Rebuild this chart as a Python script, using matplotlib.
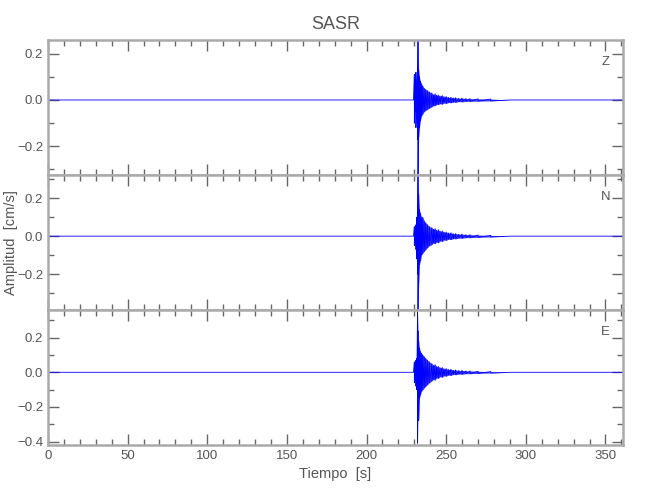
import numpy as np
import matplotlib
matplotlib.use('Agg')
import matplotlib.pyplot as plt
from matplotlib.ticker import MultipleLocator, FuncFormatter

plt.rcParams['font.family'] = ['Liberation Sans', 'DejaVu Sans']

station = 'SASR'
comps = ['Z', 'N', 'E']
rec_start = 0.0
rec_end = 361.0

# peak envelope of each trace (s, cm/s)
t_env = [229.5, 230.0, 230.5, 231.0, 231.5, 232.0, 232.3, 232.7, 233.2, 233.8,
         234.5, 235.3, 236.2, 237.2, 238.3, 239.5, 241.0, 242.0, 243.0, 244.0,
         245.0, 246.2, 247.5, 248.7, 250.0, 251.5, 253.0, 254.5, 256.0, 258.0,
         260.0, 262.5, 265.0, 270.0, 278.0, 290.0]
z_up = [0.0, 0.11, 0.06, 0.12, 0.08, 0.14, 0.26, 0.13, 0.10, 0.08,
        0.07, 0.06, 0.05, 0.045, 0.04, 0.035, 0.03, 0.022, 0.027, 0.02,
        0.022, 0.017, 0.019, 0.014, 0.015, 0.011, 0.012, 0.009, 0.010, 0.007,
        0.008, 0.006, 0.006, 0.005, 0.004, 0.0]
z_lo = [0.0, -0.10, -0.05, -0.12, -0.08, -0.17, -0.33, -0.16, -0.12, -0.09,
        -0.07, -0.06, -0.05, -0.045, -0.04, -0.035, -0.03, -0.024, -0.025, -0.019,
        -0.02, -0.016, -0.018, -0.013, -0.015, -0.011, -0.012, -0.009, -0.01, -0.007,
        -0.008, -0.006, -0.006, -0.005, -0.004, 0.0]
n_up = [0.0, 0.05, 0.04, 0.06, 0.10, 0.16, 0.32, 0.22, 0.14, 0.12,
        0.10, 0.10, 0.08, 0.07, 0.06, 0.05, 0.045, 0.036, 0.04, 0.03,
        0.035, 0.026, 0.028, 0.021, 0.022, 0.017, 0.018, 0.013, 0.014, 0.010,
        0.011, 0.008, 0.008, 0.006, 0.004, 0.0]
n_lo = [0.0, -0.05, -0.04, -0.07, -0.12, -0.20, -0.39, -0.25, -0.15, -0.13,
        -0.10, -0.09, -0.08, -0.07, -0.06, -0.05, -0.045, -0.035, -0.04, -0.03,
        -0.035, -0.025, -0.028, -0.02, -0.022, -0.016, -0.018, -0.013, -0.014, -0.01,
        -0.011, -0.008, -0.008, -0.006, -0.004, 0.0]
e_up = [0.0, 0.06, 0.05, 0.07, 0.08, 0.35, 0.24, 0.18, 0.14, 0.12,
        0.11, 0.10, 0.09, 0.08, 0.07, 0.06, 0.05, 0.04, 0.045, 0.032,
        0.035, 0.026, 0.028, 0.02, 0.022, 0.016, 0.018, 0.012, 0.014, 0.01,
        0.011, 0.008, 0.008, 0.006, 0.004, 0.0]
e_lo = [0.0, -0.06, -0.05, -0.08, -0.10, -0.41, -0.22, -0.28, -0.15, -0.13,
        -0.11, -0.10, -0.09, -0.08, -0.07, -0.06, -0.05, -0.04, -0.045, -0.032,
        -0.035, -0.025, -0.028, -0.02, -0.022, -0.016, -0.018, -0.012, -0.014, -0.01,
        -0.011, -0.008, -0.008, -0.006, -0.004, 0.0]

ups = [z_up, n_up, e_up]
los = [z_lo, n_lo, e_lo]
ylims = [(-0.324, 0.259), (-0.39, 0.323), (-0.42, 0.36)]

fcol = '#aaaaaa'
tcol = '#555555'

fig = plt.figure(figsize=(6.5, 5), dpi=100)
left, width = 48/650, 575/650
bottoms = [1-175/500, 1-310/500, 1-445/500]
h = 135/500

yfmt = FuncFormatter(lambda v, p: ('%.1f' % v).replace('-', '\u2212'))

for i in range(3):
    ax = fig.add_axes([left, bottoms[i], width, h])
    t = np.array(t_env)
    up = np.array(ups[i])
    lo = np.array(los[i])
    tt = np.concatenate([[rec_start], np.repeat(t, 2), [rec_end]])
    yy = np.concatenate([[0.0], np.column_stack([up, lo]).ravel(), [0.0]])
    ax.fill_between(t, lo, up, color='#1010ff', alpha=0.8, lw=0)
    ax.plot(tt, yy, color='#0000ff', lw=0.6)
    ax.set_xlim(rec_start, rec_end)
    ax.set_ylim(*ylims[i])
    ax.xaxis.set_major_locator(MultipleLocator(50))
    ax.xaxis.set_minor_locator(MultipleLocator(10))
    ax.yaxis.set_major_locator(MultipleLocator(0.2))
    ax.yaxis.set_minor_locator(MultipleLocator(0.1))
    ax.tick_params(which='both', direction='in', top=True, right=True,
                   color='#666666', labelcolor=tcol, labelsize=9.5, width=1)
    ax.tick_params(which='major', length=8)
    ax.tick_params(which='minor', length=4)
    ax.yaxis.set_major_formatter(yfmt)
    for s in ax.spines.values():
        s.set_color(fcol)
        s.set_linewidth(1.8)
    ax.text(0.97, 0.84, comps[i], transform=ax.transAxes, ha='center',
            va='center', color=tcol, fontsize=9.5)
    if i < 2:
        ax.tick_params(labelbottom=False)
    else:
        ax.set_xlabel('Tiempo  [s]', color=tcol, fontsize=10.5, labelpad=4)
    if i == 0:
        ax.set_title(station, color=tcol, fontsize=13, pad=8)
    if i == 1:
        ax.set_ylabel('Amplitud  [cm/s]', color=tcol, fontsize=10.5)
        ax.yaxis.set_label_coords(-0.052, 0.5)

fig.savefig('out.png', dpi=100)
